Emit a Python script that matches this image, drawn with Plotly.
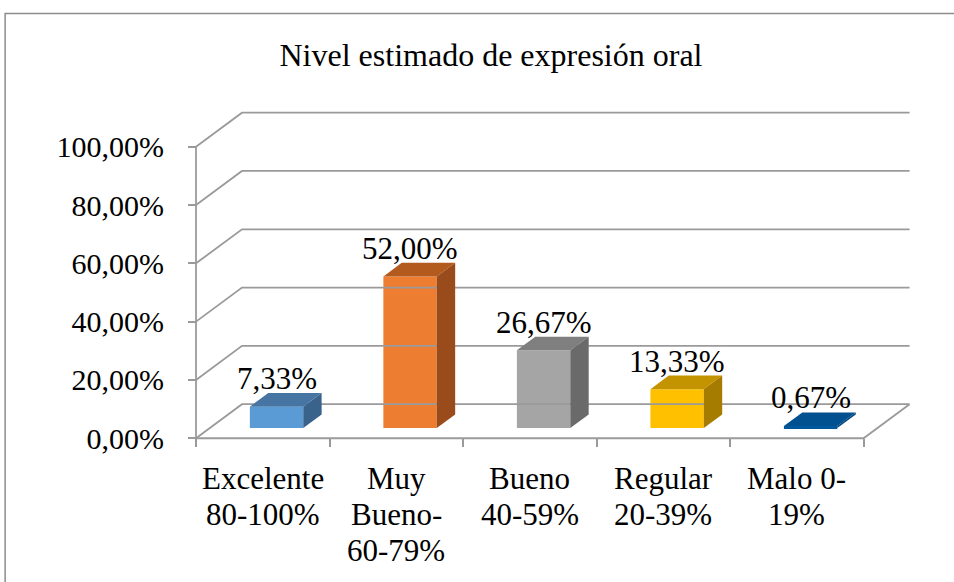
import plotly.graph_objects as go

# data
categories = ["Excelente<br>80-100%", "Muy<br>Bueno-<br>60-79%", "Bueno<br>40-59%",
              "Regular<br>20-39%", "Malo 0-<br>19%"]
values = [7.33, 52.00, 26.67, 13.33, 0.67]
value_labels = ["7,33%", "52,00%", "26,67%", "13,33%", "0,67%"]
y_ticks = [0, 20, 40, 60, 80, 100]
y_tick_labels = ["0,00%", "20,00%", "40,00%", "60,00%", "80,00%", "100,00%"]

# face colours: front, top, side
front_cols = ["#5B9BD5", "#ED7D31", "#A5A5A5", "#FFC000", "#01579B"]
top_cols = ["#4674A3", "#B35A1F", "#7F7F7F", "#C49300", "#01508F"]
side_cols = ["#3A638C", "#9A4B1C", "#6A6A6A", "#A67C00", "#01467D"]

FONT = "Times New Roman, Liberation Serif, DejaVu Serif, serif"
GRID = "#9a9a9a"

# fake 3d geometry (depth offset in axis units)
DX = 46 / 133.6
DY = 34 / 2.91
BAR_W = 0.4
FRONT = 0.3   # gap in front of bars, fraction of depth
DEPTH = 0.4   # bar depth, fraction of depth

# axis ranges / pixel layout
PX_X, PX_Y = 133.6, 2.91
xmin, xmax = -0.06, 5.40
ymin, ymax = -0.6, 115
L = 196 + xmin * PX_X
W = (xmax - xmin) * PX_X
R = 954 - L - W
bottom_px = 438 - ymin * PX_Y
B = 582 - bottom_px
T = 438 - ymax * PX_Y
H = bottom_px - T

fig = go.Figure()

# walls / floor lines
gx, gy = [], []
for v in y_ticks:
    gx += [0, DX, 5 + DX, None]
    gy += [v, v + DY, v + DY, None]
gx += [0, 0, None, 0, 5, 5 + DX, None]
gy += [0, 100, None, 0, 0, DY, None]
fig.add_trace(go.Scatter(x=gx, y=gy, mode="lines",
                         line=dict(color=GRID, width=1.8),
                         hoverinfo="skip"))

base = FRONT * DY
xc = [i + 0.5 + FRONT * DX for i in range(len(values))]

# front faces
fig.add_trace(go.Bar(x=xc, y=values, base=base, width=BAR_W,
                     marker=dict(color=front_cols, line=dict(width=0))))

# top and side faces
for i, v in enumerate(values):
    x0 = xc[i] - BAR_W / 2
    x1 = xc[i] + BAR_W / 2
    ddx, ddy = DEPTH * DX, DEPTH * DY
    fig.add_trace(go.Scatter(
        x=[x0, x1, x1 + ddx, x0 + ddx, x0],
        y=[base + v, base + v, base + v + ddy, base + v + ddy, base + v],
        fill="toself", fillcolor=top_cols[i], mode="lines",
        line=dict(width=0, color=top_cols[i]), hoverinfo="skip"))
    fig.add_trace(go.Scatter(
        x=[x1, x1 + ddx, x1 + ddx, x1, x1],
        y=[base, base + ddy, base + ddy + v, base + v, base],
        fill="toself", fillcolor=side_cols[i], mode="lines",
        line=dict(width=0, color=side_cols[i]), hoverinfo="skip"))

# data labels
for i, v in enumerate(values):
    fig.add_annotation(x=xc[i], y=base + v + DEPTH * DY, text=value_labels[i],
                       showarrow=False, yanchor="bottom", yshift=-5,
                       font=dict(family=FONT, size=31, color="black"))

# category labels, one annotation per line (Excel line spacing is tighter)
for i, cat in enumerate(categories):
    for j, line in enumerate(cat.split("<br>")):
        fig.add_annotation(x=i + 0.5, y=0, text=line, showarrow=False,
                           yanchor="middle", yshift=-40 - 36 * j,
                           font=dict(family=FONT, size=31, color="black"))

fig.update_layout(
    width=954, height=582,
    margin=dict(l=L, r=R, t=T, b=B),
    paper_bgcolor="white", plot_bgcolor="white",
    showlegend=False,
    title=dict(text="Nivel estimado de expresión oral",
               font=dict(family=FONT, size=32, color="black"),
               x=491 / 954, y=1 - 55 / 582, xanchor="center", yanchor="middle",
               xref="container", yref="container"),
    xaxis=dict(range=[xmin, xmax], anchor="free",
               position=(0 - ymin) / (ymax - ymin),
               showticklabels=False, ticks="", showgrid=False, zeroline=False,
               showline=False,
               minor=dict(tickvals=list(range(len(categories) + 1)),
                          ticks="outside", ticklen=8, tickcolor=GRID,
                          tickwidth=1.8, showgrid=False)),
    yaxis=dict(range=[ymin, ymax], anchor="free",
               position=(0 - xmin) / (xmax - xmin),
               tickvals=y_ticks, ticktext=y_tick_labels,
               ticks="outside", ticklen=8, tickcolor=GRID, tickwidth=1.8,
               showgrid=False, zeroline=False, showline=False,
               ticklabelstandoff=18,
               tickfont=dict(family=FONT, size=30, color="black")),
    shapes=[dict(type="rect", xref="paper", yref="paper",
                 x0=(5 - L) / W, x1=(1100 - L) / W,
                 y0=(bottom_px - 800) / H, y1=(bottom_px - 14) / H,
                 line=dict(color="#8c8c8c", width=1.5), layer="below")],
)

fig.write_html("out.html", config={"displayModeBar": False},
               post_script="document.body.style.margin='0';")
